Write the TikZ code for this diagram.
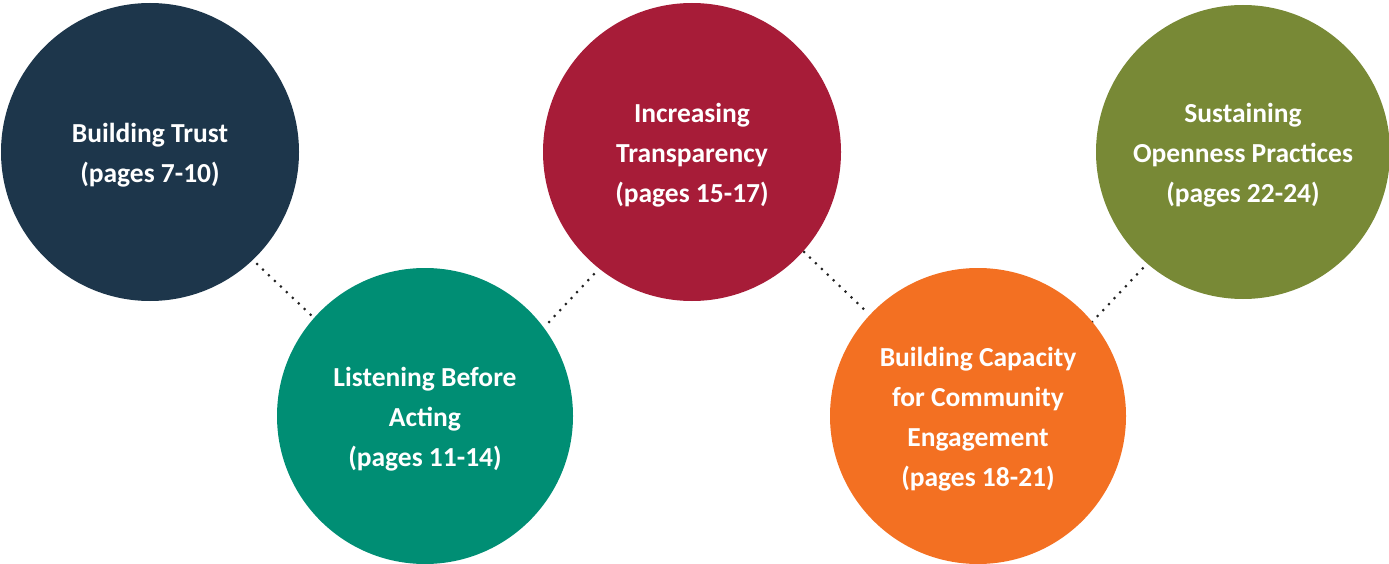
\documentclass[tikz,border=0pt]{standalone}
\usepackage{fontspec}
\setmainfont{Carlito}
\definecolor{cnavy}{HTML}{1D364B}
\definecolor{cteal}{HTML}{008E74}
\definecolor{ccrimson}{HTML}{A71C38}
\definecolor{corange}{HTML}{F37022}
\definecolor{colive}{HTML}{788936}
\definecolor{cdot}{HTML}{222222}
\begin{document}
\begin{tikzpicture}[x=1pt,y=-1pt,
  topic/.style={circle, inner sep=0pt, minimum size=298pt},
  topictext/.style={text=white, inner sep=0pt, yshift=-3.5pt,
    font=\fontsize{27.5}{40}\selectfont\bfseries, align=center},
  linker/.style={draw=cdot, line width=3pt, line cap=round, dash pattern=on 0pt off 8.2pt}]
\useasboundingbox (0,0) rectangle (1389,564);
% connector end points
\coordinate (a1) at (257,264);
\coordinate (b1) at (311,315);
\coordinate (a2) at (549,322);
\coordinate (b2) at (594,274);
\coordinate (a3) at (804,252);
\coordinate (b3) at (869,314);
\coordinate (a4) at (1092,322);
\coordinate (b4) at (1143,268);
\path[linker] (a1) -- (b1);
\path[linker] (a2) -- (b2);
\path[linker] (a3) -- (b3);
\path[linker] (a4) -- (b4);
\node[topic, fill=cnavy, label={[topictext]center:{Building Trust\\(pages 7-10)}}] (c1) at (150,152) {};
\node[topic, fill=cteal, minimum size=296pt, label={[topictext]center:{Listening Before\\Acting\\(pages 11-14)}}] (c2) at (425,416) {};
\node[topic, fill=ccrimson, label={[topictext]center:{Increasing\\Transparency\\(pages 15-17)}}] (c3) at (692,152) {};
\node[topic, fill=corange, minimum size=296pt, label={[topictext]center:{Building Capacity\\for Community\\Engagement\\(pages 18-21)}}] (c4) at (978,416) {};
\node[topic, fill=colive, minimum size=294pt, label={[topictext]center:{Sustaining\\Openness Practices\\(pages 22-24)}}] (c5) at (1243,152) {};
\end{tikzpicture}
\end{document}
